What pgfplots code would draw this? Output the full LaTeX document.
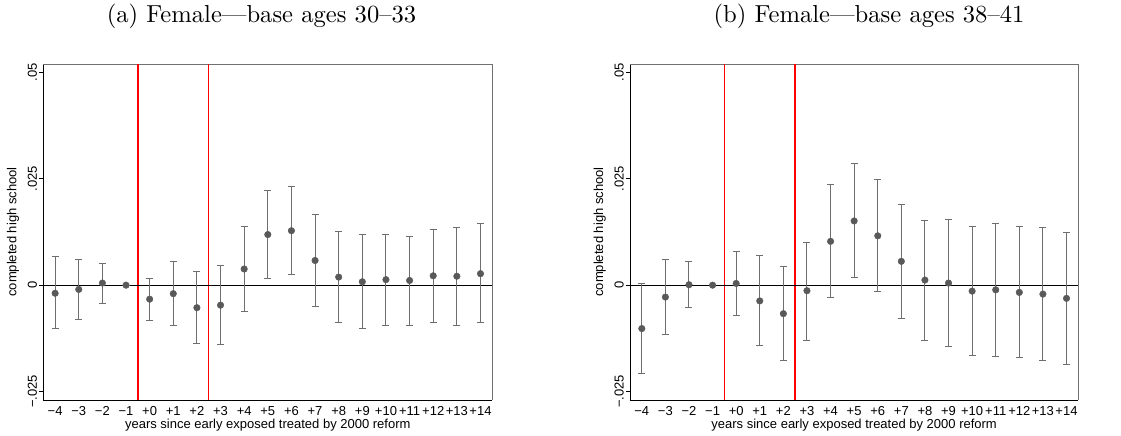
\documentclass[border=0pt]{standalone}
\usepackage{pgfplots}
\pgfplotsset{compat=1.18}
\usepackage{pgfplotstable}
\usepackage{fontspec}
\newfontfamily\arialf{Liberation Sans}
\newfontfamily\titlefont{lmroman10-regular.otf}
\definecolor{mk}{HTML}{595959}
\definecolor{eb}{HTML}{6E6E6E}
\definecolor{fr}{HTML}{707070}
\definecolor{rl}{HTML}{FF0000}

\pgfplotstableread{
x y ep em
0 -0.0019 0.0086 0.0084
1 -0.0010 0.0070 0.0070
2 0.0005 0.0047 0.0047
3 0.0000 0.0000 0.0000
4 -0.0033 0.0049 0.0049
5 -0.0020 0.0076 0.0074
6 -0.0053 0.0085 0.0084
7 -0.0047 0.0093 0.0092
8 0.0038 0.0101 0.0099
9 0.0119 0.0104 0.0104
10 0.0128 0.0104 0.0104
11 0.0058 0.0109 0.0108
12 0.0019 0.0107 0.0107
13 0.0008 0.0110 0.0111
14 0.0013 0.0107 0.0107
15 0.0011 0.0104 0.0107
16 0.0022 0.0110 0.0110
17 0.0021 0.0115 0.0116
18 0.0027 0.0117 0.0115
}\dataA

\pgfplotstableread{
x y ep em
0 -0.0102 0.0105 0.0105
1 -0.0028 0.0089 0.0088
2 0.0001 0.0055 0.0054
3 0.0000 0.0000 0.0000
4 0.0004 0.0076 0.0076
5 -0.0037 0.0106 0.0105
6 -0.0067 0.0111 0.0109
7 -0.0013 0.0114 0.0116
8 0.0103 0.0133 0.0132
9 0.0151 0.0134 0.0134
10 0.0116 0.0133 0.0132
11 0.0056 0.0134 0.0134
12 0.0012 0.0139 0.0141
13 0.0005 0.0149 0.0149
14 -0.0014 0.0153 0.0152
15 -0.0011 0.0156 0.0157
16 -0.0017 0.0154 0.0153
17 -0.0021 0.0157 0.0155
18 -0.0031 0.0156 0.0155
}\dataB

\pgfplotsset{
  panel/.style={
    scale only axis, width=449pt, height=336pt,
    anchor=south west,
    xmin=-0.5, xmax=18.5, ymin=-0.027, ymax=0.052,
    axis x line*=bottom, axis y line*=left,
    axis line style={black, line width=0.9pt},
    xtick={0,...,18},
    xticklabels={−4,−3,−2,−1,+0,+1,+2,+3,+4,+5,+6,+7,+8,+9,+10,+11,+12,+13,+14},
    xtick style={draw=none},
    scaled y ticks=false,
    ytick={-0.025,0,0.025,0.05},
    yticklabels={−.025,0,.025,.05},
    ytick style={black, line width=0.8pt},
    tick align=outside, major tick length=4pt,
    tick label style={font=\arialf\fontsize{13}{15}\selectfont},
    xticklabel style={inner sep=2pt},
    yticklabel style={rotate=90, anchor=south, inner sep=2pt},
    xlabel={years since early exposed treated by 2000 reform},
    ylabel={completed high school},
    label style={font=\arialf\fontsize{13}{15}\selectfont},
    xlabel style={at={(axis description cs:0.5,-0.074)}, anchor=center},
    ylabel style={at={(axis description cs:-0.0675,0.5)}, anchor=center},
    clip=false,
  },
  pts/.style={
    only marks, mark=*, mark size=3.3pt, color=mk,
    mark options={fill=mk, draw=mk},
    error bars/.cd, y dir=both, y explicit,
    error bar style={eb, line width=1pt},
    error mark options={rotate=90, mark size=3.5pt, eb, line width=1pt},
  },
  vline/.style={draw=rl, line width=1.5pt, mark=none, forget plot},
}

\begin{document}
\begin{tikzpicture}[x=1pt,y=1pt]
\path[use as bounding box] (0,0) rectangle (1121,436);
\node[font=\titlefont\fontsize{24.6}{28}\selectfont] at (261.5,420) {(a) Female—base ages 30–33};
\node[font=\titlefont\fontsize{24.6}{28}\selectfont] at (869,420) {(b) Female—base ages 38–41};

\begin{axis}[panel, at={(43.3pt,36pt)}]
\draw[fr, line width=0.9pt] (rel axis cs:0,1) -- (rel axis cs:1,1) -- (rel axis cs:1,0);
\addplot[vline] coordinates {(3.5,-0.027) (3.5,0.052)};
\addplot[vline] coordinates {(6.5,-0.027) (6.5,0.052)};
\addplot[black, line width=0.9pt, mark=none] coordinates {(-0.5,0) (18.5,0)};
\addplot[pts] table[x=x, y=y, y error plus=ep, y error minus=em] {\dataA};
\end{axis}

\begin{axis}[panel, at={(630pt,36pt)}, width=448.3pt]
\draw[fr, line width=0.9pt] (rel axis cs:0,1) -- (rel axis cs:1,1) -- (rel axis cs:1,0);
\addplot[vline] coordinates {(3.5,-0.027) (3.5,0.052)};
\addplot[vline] coordinates {(6.5,-0.027) (6.5,0.052)};
\addplot[black, line width=0.9pt, mark=none] coordinates {(-0.5,0) (18.5,0)};
\addplot[pts] table[x=x, y=y, y error plus=ep, y error minus=em] {\dataB};
\end{axis}
\end{tikzpicture}
\end{document}
